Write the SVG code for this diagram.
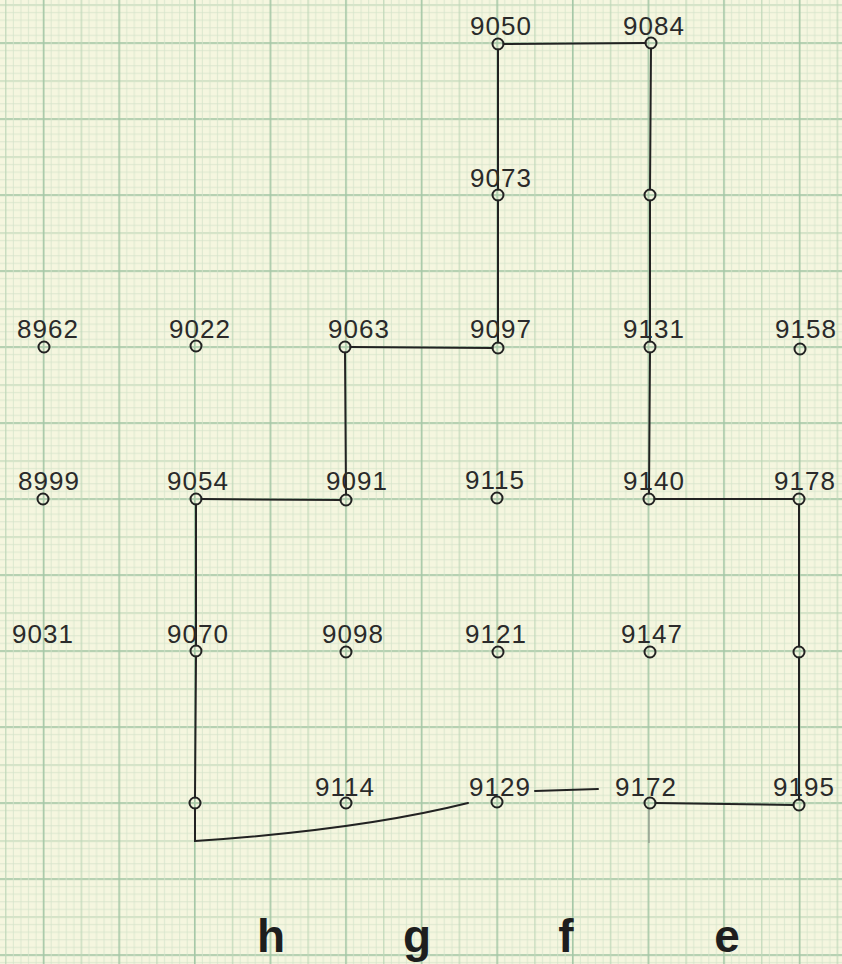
<svg xmlns="http://www.w3.org/2000/svg" width="842" height="964" viewBox="0 0 842 964">
  <defs>
    <pattern id="gx" x="39.82" y="0" width="75.6" height="964" patternUnits="userSpaceOnUse">
      <g stroke="#d5e3ca" stroke-width="0.8">
        <line x1="11.34" y1="0" x2="11.34" y2="964"/>
        <line x1="18.9" y1="0" x2="18.9" y2="964"/>
        <line x1="26.46" y1="0" x2="26.46" y2="964"/>
        <line x1="34.02" y1="0" x2="34.02" y2="964"/>
        <line x1="49.14" y1="0" x2="49.14" y2="964"/>
        <line x1="56.7" y1="0" x2="56.7" y2="964"/>
        <line x1="64.26" y1="0" x2="64.26" y2="964"/>
        <line x1="71.82" y1="0" x2="71.82" y2="964"/>
      </g>
      <line x1="41.58" y1="0" x2="41.58" y2="964" stroke="#bfd7b8" stroke-width="1.2"/>
      <line x1="3.78" y1="0" x2="3.78" y2="964" stroke="#a6c8a7" stroke-width="1.7"/>
    </pattern>
    <pattern id="gy" x="0" y="39.2" width="842" height="76" patternUnits="userSpaceOnUse">
      <g stroke="#d5e3ca" stroke-width="0.8">
        <line x1="0" y1="11.4" x2="842" y2="11.4"/>
        <line x1="0" y1="19" x2="842" y2="19"/>
        <line x1="0" y1="26.6" x2="842" y2="26.6"/>
        <line x1="0" y1="34.2" x2="842" y2="34.2"/>
        <line x1="0" y1="49.4" x2="842" y2="49.4"/>
        <line x1="0" y1="57" x2="842" y2="57"/>
        <line x1="0" y1="64.6" x2="842" y2="64.6"/>
        <line x1="0" y1="72.2" x2="842" y2="72.2"/>
      </g>
      <line x1="0" y1="41.8" x2="842" y2="41.8" stroke="#bfd7b8" stroke-width="1.2"/>
      <line x1="0" y1="3.8" x2="842" y2="3.8" stroke="#a6c8a7" stroke-width="1.7"/>
    </pattern>
  </defs>
  <style>
    .pt { fill: none; stroke: #222; stroke-width: 2; }
    .lb { font-family: "Liberation Sans", Arial, sans-serif; font-size: 26px; fill: #2a2a2a; text-anchor: middle; letter-spacing: 1px; }
    .col { font-family: "Liberation Sans", Arial, sans-serif; font-size: 46px; font-weight: bold; fill: #1e1e1e; text-anchor: middle; }
    .cn { fill: none; stroke: #222; stroke-width: 2; stroke-linecap: round; }
  </style>

  <rect x="0" y="0" width="842" height="964" fill="#f5f6df"/>
  <rect x="0" y="0" width="842" height="964" fill="url(#gy)"/>
  <rect x="0" y="0" width="842" height="964" fill="url(#gx)"/>

  <g id="connectors">
    <path class="cn" d="M503.5,44 L645.5,43"/>
    <path class="cn" d="M498,49.5 V189.5"/>
    <path class="cn" d="M498,200.5 V342.5"/>
    <path class="cn" d="M651,48.5 L650,189.5"/>
    <path class="cn" d="M650,200.5 V341.5"/>
    <path class="cn" d="M650,352.5 L649,493.5"/>
    <path class="cn" d="M350.5,347 L492.5,348"/>
    <path class="cn" d="M345,352.5 L346,494.5"/>
    <path class="cn" d="M201.5,499 L340.5,500"/>
    <path class="cn" d="M196,504.5 V645.5"/>
    <path class="cn" d="M196,656.5 L195,797.5"/>
    <path class="cn" d="M195,808.5 V841 Q360,830 468,803"/>
    <path class="cn" d="M535,791 L598,789"/>
    <path class="cn" d="M655.5,803 L793.5,805"/>
    <path class="cn" d="M654.5,499 H793.5"/>
    <path class="cn" d="M799,504.5 V646.5"/>
    <path class="cn" d="M799,657.5 V799.5"/>
    <path d="M649,808.5 V843" fill="none" stroke="#8a8f86" stroke-width="1.1"/>
  </g>

  <g id="n9050"><circle class="pt" cx="498" cy="44" r="5.5"/><text class="lb" x="501" y="35">9050</text></g>
  <g id="n9084"><circle class="pt" cx="651" cy="43" r="5.5"/><text class="lb" x="654" y="35">9084</text></g>
  <g id="n9073"><circle class="pt" cx="498" cy="195" r="5.5"/><text class="lb" x="501" y="187">9073</text></g>
  <g id="p650_195"><circle class="pt" cx="650" cy="195" r="5.5"/></g>

  <g id="n8962"><circle class="pt" cx="44" cy="347" r="5.5"/><text class="lb" x="48" y="338">8962</text></g>
  <g id="n9022"><circle class="pt" cx="196" cy="346" r="5.5"/><text class="lb" x="200" y="338">9022</text></g>
  <g id="n9063"><circle class="pt" cx="345" cy="347" r="5.5"/><text class="lb" x="359" y="338">9063</text></g>
  <g id="n9097"><circle class="pt" cx="498" cy="348" r="5.5"/><text class="lb" x="501" y="338">9097</text></g>
  <g id="n9131"><circle class="pt" cx="650" cy="347" r="5.5"/><text class="lb" x="654" y="338">9131</text></g>
  <g id="n9158"><circle class="pt" cx="800" cy="349" r="5.5"/><text class="lb" x="806" y="338">9158</text></g>

  <g id="n8999"><circle class="pt" cx="43" cy="499" r="5.5"/><text class="lb" x="49" y="490">8999</text></g>
  <g id="n9054"><circle class="pt" cx="196" cy="499" r="5.5"/><text class="lb" x="198" y="490">9054</text></g>
  <g id="n9091"><circle class="pt" cx="346" cy="500" r="5.5"/><text class="lb" x="357" y="490">9091</text></g>
  <g id="n9115"><circle class="pt" cx="497" cy="498" r="5.5"/><text class="lb" x="495" y="489">9115</text></g>
  <g id="n9140"><circle class="pt" cx="649" cy="499" r="5.5"/><text class="lb" x="654" y="490">9140</text></g>
  <g id="n9178"><circle class="pt" cx="799" cy="499" r="5.5"/><text class="lb" x="805" y="490">9178</text></g>

  <g id="n9031"><text class="lb" x="43" y="643">9031</text></g>
  <g id="n9070"><circle class="pt" cx="196" cy="651" r="5.5"/><text class="lb" x="198" y="643">9070</text></g>
  <g id="n9098"><circle class="pt" cx="346" cy="652" r="5.5"/><text class="lb" x="353" y="643">9098</text></g>
  <g id="n9121"><circle class="pt" cx="498" cy="652" r="5.5"/><text class="lb" x="496" y="643">9121</text></g>
  <g id="n9147"><circle class="pt" cx="650" cy="652" r="5.5"/><text class="lb" x="652" y="643">9147</text></g>
  <g id="p799_652"><circle class="pt" cx="799" cy="652" r="5.5"/></g>

  <g id="p195_803"><circle class="pt" cx="195" cy="803" r="5.5"/></g>
  <g id="n9114"><circle class="pt" cx="346" cy="803" r="5.5"/><text class="lb" x="345" y="796">9114</text></g>
  <g id="n9129"><circle class="pt" cx="497" cy="802" r="5.5"/><text class="lb" x="500" y="796">9129</text></g>
  <g id="n9172"><circle class="pt" cx="650" cy="803" r="5.5"/><text class="lb" x="646" y="796">9172</text></g>
  <g id="n9195"><circle class="pt" cx="799" cy="805" r="5.5"/><text class="lb" x="804" y="796">9195</text></g>

  <g id="columns">
    <text class="col" x="271" y="952">h</text>
    <text class="col" x="417" y="952">g</text>
    <text class="col" x="566" y="952">f</text>
    <text class="col" x="727" y="952">e</text>
  </g>
</svg>
